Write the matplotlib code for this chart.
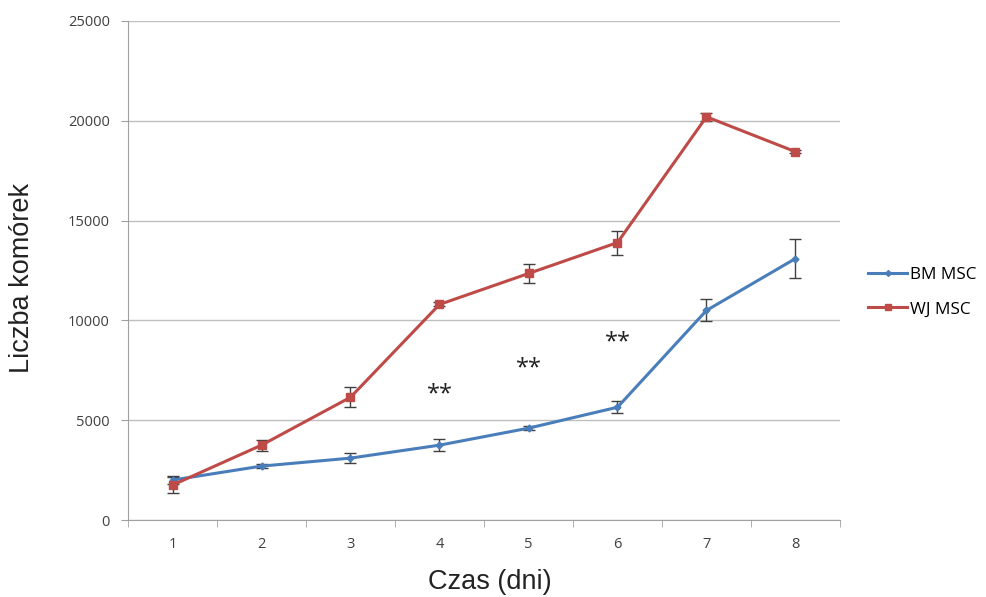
import matplotlib
matplotlib.use("Agg")
import matplotlib.pyplot as plt
from matplotlib.lines import Line2D
import numpy as np

days = [1, 2, 3, 4, 5, 6, 7, 8]
bm_msc = [2000, 2700, 3100, 3750, 4600, 5650, 10500, 13100]
bm_err = [200, 100, 250, 300, 100, 300, 550, 970]
wj_msc = [1750, 3750, 6150, 10800, 12350, 13900, 20200, 18450]
wj_err = [400, 280, 500, 100, 500, 600, 200, 80]
star_days = [4, 5, 6]
star_y = [6300, 7600, 8900]
yticks = [0, 5000, 10000, 15000, 20000, 25000]

plt.rcParams['font.family'] = ['Open Sans', 'DejaVu Sans']

fig = plt.figure(figsize=(9.87, 5.97), dpi=100)
ax = fig.add_axes([128/987, 1-520/597, (840-128)/987, (520-21)/597])

blue = '#4a7ebb'
red = '#be4b48'

ax.errorbar(days, bm_msc, yerr=bm_err, color=blue, lw=2.2, marker='D', ms=3.5,
            ecolor='#404040', elinewidth=1, capsize=4, capthick=1, zorder=3)
ax.errorbar(days, wj_msc, yerr=wj_err, color=red, lw=2.2, marker='s', ms=5.5,
            ecolor='#404040', elinewidth=1, capsize=4, capthick=1, zorder=3)

for d, y in zip(star_days, star_y):
    ax.text(d, y, '**', ha='center', va='center', fontsize=17, color='#222222')

ax.set_xlim(0.5, 8.5)
ax.set_ylim(0, 25000)
ax.set_yticks(yticks)
ax.set_yticklabels([str(v) for v in yticks], fontsize=10.5, color='#404040')
ax.set_xticks(days)
ax.set_xticklabels([str(d) for d in days], fontsize=10.5, color='#404040')
ax.set_xticks(np.arange(0.5, 9.0, 1.0), minor=True)
ax.tick_params(axis='x', which='major', length=0, pad=12)
ax.tick_params(axis='x', which='minor', length=5, color='#a0a0a0', direction='out')
ax.tick_params(axis='y', length=5, color='#a0a0a0', direction='out', pad=8)

ax.grid(axis='y', color='#bfbfbf', lw=1)
ax.set_axisbelow(True)
for s in ['top', 'right']:
    ax.spines[s].set_visible(False)
for s in ['left', 'bottom']:
    ax.spines[s].set_color('#a0a0a0')

fig.text(490/987, 1-582/597, 'Czas (dni)', fontsize=19.5, color='#222222',
         ha='center', va='center', family=['Liberation Sans', 'DejaVu Sans'])
fig.text(22/987, 1-278/597, 'Liczba komórek', fontsize=19.5, color='#222222',
         ha='center', va='center', rotation=90, family=['Liberation Sans', 'DejaVu Sans'])

handles = [Line2D([], [], color=blue, lw=2.2, marker='D', ms=3),
           Line2D([], [], color=red, lw=2.2, marker='s', ms=5)]
fig.legend(handles, ['BM MSC', 'WJ MSC'], loc='center left',
           bbox_to_anchor=(868/987, 1-292/597), frameon=False, borderpad=0,
           borderaxespad=0, fontsize=12.3, handlelength=2.3, labelspacing=1.1,
           handletextpad=0.15)

fig.savefig('out.png', dpi=100)
